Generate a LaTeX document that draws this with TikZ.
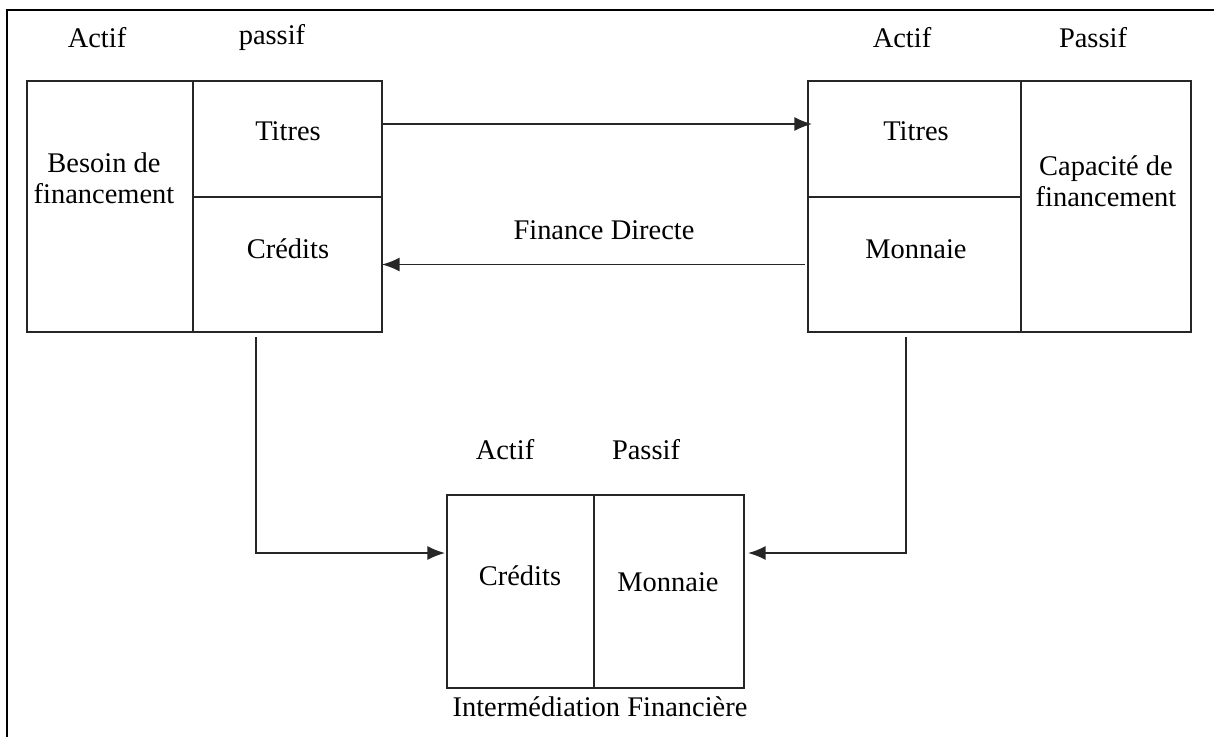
\documentclass[tikz,border=0pt]{standalone}
\usepackage{fontspec}
\setmainfont{Liberation Serif}
\usetikzlibrary{calc, arrows.meta}

\begin{document}
\begin{tikzpicture}[x=0.02cm, y=-0.02cm,
    cell/.style={draw=black!85, line width=1pt, outer sep=0pt, inner sep=0pt},
    txt/.style={font=\fontsize{16.2}{17.6}\selectfont, align=center, inner sep=1pt},
    flow/.style={draw=black!85, line width=1pt, -{Latex[length=10pt, width=8pt]}}]
                \useasboundingbox (0,0) rectangle (1214,737);
                % cadre
                \coordinate (c0) at (7,737);
                \coordinate (c1) at (7,10);
                \coordinate (c2) at (1214,10);
                \draw[line width=1.1pt] (c0) -- (c1) -- (c2);
                % agent a besoin de financement
                \node[cell, minimum width=3.32cm, minimum height=5.02cm] (besoin) at (110,206.5) {};
                \node[cell, minimum width=3.78cm, minimum height=2.32cm] (titresL) at (287.5,139) {};
                \node[cell, minimum width=3.78cm, minimum height=2.7cm] (creditsL) at (287.5,264.5) {};
                % agent a capacite de financement
                \node[cell, minimum width=4.26cm, minimum height=2.32cm] (titresR) at (914.5,139) {};
                \node[cell, minimum width=4.26cm, minimum height=2.7cm] (monnaieR) at (914.5,264.5) {};
                \node[cell, minimum width=3.4cm, minimum height=5.02cm] (capacite) at (1106,206.5) {};
                % intermediaire financier
                \node[cell, minimum width=2.94cm, minimum height=3.86cm] (creditsB) at (520.5,591.5) {};
                \node[cell, minimum width=3.0cm, minimum height=3.86cm] (monnaieB) at (669,591.5) {};
                % textes
                \node[txt] (actifL) at (97,38) {Actif};
                \node[txt] (passifL) at (272,38) {passif};
                \node[txt] (actifR) at (902,38) {Actif};
                \node[txt] (passifR) at (1093,38) {Passif};
                \node[txt] (actifB) at (505,450) {Actif};
                \node[txt] (passifB) at (646,450) {Passif};
                \node[txt] (tBesoin) at (104,178) {Besoin de\\financement};
                \node[txt] (tTitresL) at (288,131) {Titres};
                \node[txt] (tCreditsL) at (288,249) {Crédits};
                \node[txt] (tTitresR) at (916,131) {Titres};
                \node[txt] (tMonnaieR) at (916,249) {Monnaie};
                \node[txt] (tCapacite) at (1106,181) {Capacité de\\financement};
                \node[txt] (tCreditsB) at (520,576) {Crédits};
                \node[txt] (tMonnaieB) at (668,582) {Monnaie};
                \node[txt] (direct) at (604,230) {Finance Directe};
                \node[txt] (interm) at (600,707) {Intermédiation Financière};
                % flux
                \draw[flow] ([yshift=0.3cm]titresL.east) -- ([xshift=0.08cm, yshift=0.3cm]titresR.west);
                \draw[flow] ([xshift=-0.06cm]monnaieR.west) -- (creditsL.east);
                \draw[flow] ([xshift=-0.63cm, yshift=-0.1cm]creditsL.south) |- ([xshift=-0.04cm, yshift=0.77cm]creditsB.west);
                \draw[flow] ([xshift=-0.17cm, yshift=-0.1cm]monnaieR.south) |- ([xshift=0.08cm, yshift=0.77cm]monnaieB.east);
            \end{tikzpicture}
\end{document}
